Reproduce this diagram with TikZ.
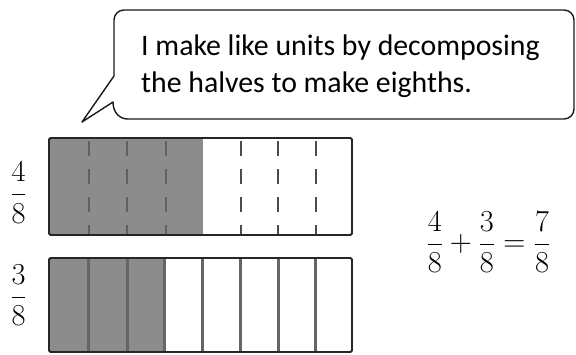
\documentclass[tikz,border=0pt]{standalone}
\usepackage{fix-cm}
\usepackage{amsmath}
\usepackage[no-math]{fontspec}
\setmainfont{Carlito}

\begin{document}
\begin{tikzpicture}[x=1pt, y=-1pt,
  bubble/.style={draw=black!90, line width=1.4pt, line join=round},
  says/.style={font=\fontsize{29.8}{37}\selectfont, align=left, inner sep=0pt},
  fracnum/.style={font=\fontsize{30.5}{36}\selectfont, inner sep=0pt},
  strip/.style={draw=black!85, line width=1.8pt, rounded corners=1.5pt},
  shaded/.style={fill=black!45},
  halfcut/.style={draw=black!70, line width=1.6pt, dash pattern=on 15pt off 13pt, dash phase=25pt},
  eighth/.style={draw=black!60, line width=3pt}]
  \useasboundingbox (0,0) rectangle (576,354);
  % Speech bubble
  \coordinate (tip) at (82,122);
  \draw[bubble] (tip) -- (114,76) -- (114,20) arc[start angle=180, end angle=270, radius=10]
    -- (564,10) arc[start angle=270, end angle=360, radius=10]
    -- (574,109) arc[start angle=0, end angle=90, radius=10]
    -- (128,119) .. controls (119,119) and (113,112) .. (113,102) -- cycle;
  \node[says, anchor=base west] (words) at (141,92) {I make like units by decomposing\\the halves to make eighths.};
  % Four eighths, halves cut with dashes
  \fill[shaded] (49,138) rectangle (203,235);
  \foreach \x in {89,127,166} \draw[halfcut, black!62] (\x,138) -- (\x,235);
  \foreach \x in {241,278,316} \draw[halfcut] (\x,138) -- (\x,235);
  \draw[strip] (49,138) rectangle (352,235);
  % Three eighths
  \fill[shaded] (49,258) rectangle (165,352);
  \foreach \x in {88,127,164,202,240,278,315} \draw[eighth] (\x,258) -- (\x,352);
  \draw[strip] (49,258) rectangle (352,352);
  % Fractions
  \node[fracnum] (four) at (18.5,192.5) {$\dfrac{4}{8}$};
  \node[fracnum] (three) at (18.5,295) {$\dfrac{3}{8}$};
  \node[fracnum] (sum) at (488.5,242) {$\dfrac{4}{8}+\dfrac{3}{8}=\dfrac{7}{8}$};
\end{tikzpicture}
\end{document}
